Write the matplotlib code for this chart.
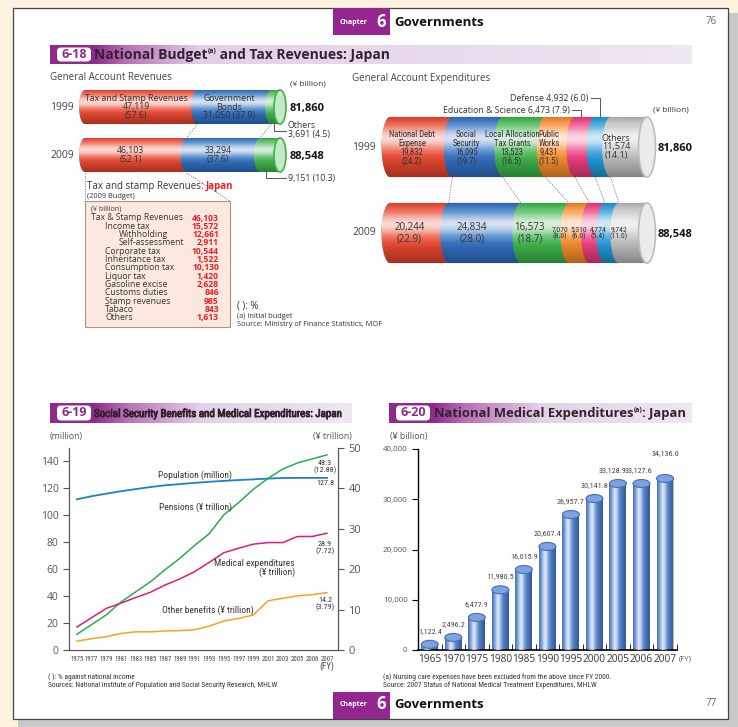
import numpy as np
import matplotlib
matplotlib.use("Agg")
import matplotlib.pyplot as plt
import matplotlib.patheffects as pe
from matplotlib.patches import Rectangle, Ellipse, Polygon, FancyBboxPatch
from matplotlib.colors import to_rgb

plt.rcParams["font.family"] = ["Open Sans", "DejaVu Sans"]
NARROW = ["Roboto Condensed", "DejaVu Sans"]

# ---------------- data ----------------
rev_years = ["1999", "2009"]
rev_names = ["Tax and Stamp Revenues", "Government\nBonds", "Others"]
rev_1999 = [47119, 31050, 3691]
rev_2009 = [46103, 33294, 9151]
rev_colors = ["#e8462f", "#2f6fc0", "#3cb44b"]

tax_items = ["Tax & Stamp Revenues", "Income tax", "Withholding", "Self-assessment",
             "Corporate tax", "Inheritance tax", "Consumption tax", "Liquor tax",
             "Gasoline excise", "Customs duties", "Stamp revenues", "Tabaco", "Others"]
tax_levels = [0, 1, 2, 2, 1, 1, 1, 1, 1, 1, 1, 1, 1]
tax_values = [46103, 15572, 12661, 2911, 10544, 1522, 10130, 1420, 2628, 846, 985, 843, 1613]

exp_names = ["National Debt\nExpense", "Social\nSecurity", "Local Allocation\nTax Grants",
             "Public\nWorks", "Education & Science", "Defense", "Others"]
exp_1999 = [19832, 16095, 13523, 9431, 6473, 4932, 11574]
exp_2009 = [20244, 24834, 16573, 7070, 5310, 4774, 9742]
exp_totals = [81860, 88548]
exp_colors = ["#e8462f", "#2f6fc0", "#3cb44b", "#f68a2b", "#ec3d7c", "#1f98d8", "#bdbdbd"]

ss_years = ["1975", "1977", "1979", "1981", "1983", "1985", "1987", "1989", "1991",
            "1993", "1995", "1997", "1999", "2001", "2003", "2005", "2006", "2007"]
population = [111.9, 114.2, 116.1, 117.9, 119.5, 121.0, 122.3, 123.2, 124.1,
              124.9, 125.6, 126.2, 126.7, 127.3, 127.7, 127.8, 127.8, 127.8]
pensions = [3.9, 6.3, 8.7, 11.9, 14.4, 16.9, 19.9, 22.7, 25.9,
            28.8, 33.5, 36.5, 39.8, 42.5, 44.8, 46.3, 47.3, 48.3]
medical = [5.7, 8.0, 10.3, 11.6, 13.0, 14.3, 16.1, 17.6, 19.4,
           21.7, 24.1, 25.2, 26.2, 26.6, 26.6, 28.1, 28.1, 28.9]
other_benefits = [2.2, 2.8, 3.3, 4.1, 4.5, 4.5, 4.7, 4.8, 5.0,
                  5.9, 7.2, 7.8, 8.7, 12.2, 12.8, 13.4, 13.7, 14.2]
income_share = [12.88, 7.72, 3.79]   # pensions, medical, other (2007)

nme_years = ["1965", "1970", "1975", "1980", "1985", "1990", "1995", "2000", "2005", "2006", "2007"]
nme_values = [1122.4, 2496.2, 6477.9, 11980.5, 16015.9, 20607.4, 26957.7, 30141.8, 33128.9, 33127.6, 34136.0]

# ---------------- page ----------------
W, H = 738, 727
PURPLE = "#8d2b8b"
fig = plt.figure(figsize=(W / 100, H / 100), dpi=100, facecolor="#fdf2df")
page = fig.add_axes([0, 0, 1, 1])
page.axis("off")
renderer = fig.canvas.get_renderer()


def T(x, y, s, **kw):
    kw.setdefault("va", "center")
    kw.setdefault("color", "#333333")
    return fig.text(x / W, 1 - y / H, s, **kw)


def T_parts(x, y, parts):
    for s, kw, dy in parts:
        t = T(x, y + dy, s, ha="left", **kw)
        x += t.get_window_extent(renderer).width


def px_axes(x0, y0, x1, y1):
    ax = fig.add_axes([x0 / W, 1 - y1 / H, (x1 - x0) / W, (y1 - y0) / H])
    ax.set_facecolor("none")
    return ax


def lighten(c, f):
    return tuple(np.array(to_rgb(c)) * (1 - f) + f)


page.add_patch(Rectangle((18, 13), 720, 714, fc="#c9c9c9", ec="none", zorder=0))
page.add_patch(Rectangle((13, 8), 715, 711, fc="white", ec="#444444", lw=0.9, zorder=1))

# chapter tabs
for ty, num in [(8, "76"), (692, "77")]:
    page.add_patch(Rectangle((333, ty), 57, 27, fc="#93278f", ec="none", zorder=2))
    yc = ty + 14 if ty < 100 else ty + 12
    T(340, yc + 1, "Chapter", color="white", fontsize=5, fontweight="bold")
    T(376, yc, "6", color="white", fontsize=12, fontweight="bold")
    T(394, yc, "Governments", color="#111111", fontsize=9.5, fontweight="bold")
    T(706, yc, num, color="#666666", fontsize=7)


def band(x0, x1, y0, y1, tag):
    n = int(x1 - x0)
    d = np.arange(n)
    stops = [0, 44, 75, 150, n]
    cols = np.array([to_rgb(c) for c in [PURPLE, PURPLE, "#b86fb5", "#e2d0e7", "#efe7f2"]])
    img = np.stack([np.interp(d, stops, cols[:, k]) for k in range(3)], axis=1)[None, :, :]
    page.imshow(img, extent=(x0, x1, y1, y0), aspect="auto", zorder=2, interpolation="bilinear")
    page.add_patch(FancyBboxPatch((x0 + 7, y0 + 2.5), 34, y1 - y0 - 5,
                                  boxstyle="round,pad=0,rounding_size=4", fc="white", ec="none", zorder=3))
    T(x0 + 24, (y0 + y1) / 2, tag, color=PURPLE, fontsize=9, fontweight="bold", ha="center")


band(50, 692, 45, 64, "6-18")
band(50, 352, 403, 423, "6-19")
band(389, 692, 403, 423, "6-20")
TITLE = "#33212f"
T_parts(94, 55, [("National Budget", dict(fontsize=10, fontweight="bold", color=TITLE), 0),
                 ("(a)", dict(fontsize=5, fontweight="bold", color=TITLE), -3),
                 (" and Tax Revenues: Japan", dict(fontsize=10, fontweight="bold", color=TITLE), 0)])
T(94, 413.5, "Social Security Benefits and Medical Expenditures: Japan", fontsize=7.9,
  color=TITLE, family=NARROW, ha="left",
  path_effects=[pe.withStroke(linewidth=0.6, foreground=TITLE)])
T_parts(434, 413.5, [("National Medical Expenditures", dict(fontsize=9.4, fontweight="bold", color=TITLE), 0),
                     ("(a)", dict(fontsize=5, fontweight="bold", color=TITLE), -3),
                     (": Japan", dict(fontsize=9.4, fontweight="bold", color=TITLE), 0)])

page.set_xlim(0, W)
page.set_ylim(H, 0)

# ---------------- cylinder helpers ----------------
def shade_profile(n=64):
    t = np.linspace(0, 1, n)
    aw = 0.8 * np.exp(-((t - 0.36) / 0.2) ** 2)
    ab = 0.3 * np.clip((t - 0.6) / 0.4, 0, 1) ** 1.3 + 0.15 * np.clip((0.1 - t) / 0.1, 0, 1)
    rgba = np.zeros((n, 4))
    rgba[:, :3] = (aw / (aw + ab + 1e-9))[:, None]
    rgba[:, 3] = 1 - (1 - aw) * (1 - ab)
    return rgba


SHADE_V = shade_profile()[:, None, :]
SHADE_H = shade_profile()[None, :, :]


def hbody(a, b, y0, y1, r):
    th = np.linspace(np.pi / 2, 3 * np.pi / 2, 40)
    yc, ry = (y0 + y1) / 2, (y1 - y0) / 2
    arc = np.column_stack([a + r * np.cos(th), yc - ry * np.sin(th)])
    return np.vstack([arc, [[b, y1], [b, y0]]])


def cylinder_row(ax, row, values, colors, h, r):
    pct = np.asarray(values, float) / sum(values) * 100
    edges = np.concatenate([[0], np.cumsum(pct)])
    y0, y1 = row - h / 2, row + h / 2
    for k, c in enumerate(colors):
        ax.add_patch(Polygon(hbody(edges[k], edges[k + 1], y0, y1, r), closed=True,
                             fc=c, ec="none", zorder=2))
    clip = Polygon(hbody(0, 100, y0, y1, r), closed=True, transform=ax.transData)
    im = ax.imshow(SHADE_V, extent=(-r, 100, y1, y0), aspect="auto", zorder=3, interpolation="bilinear")
    im.set_clip_path(clip)
    ax.add_patch(Ellipse((100, row), 2 * r, h, fc=lighten(colors[-1], 0.7), ec=colors[-1], lw=1.2, zorder=4))
    return pct, edges


# ---------------- 6-18 revenues ----------------
RX0, RX1 = 85, 280
rsc = (RX1 - RX0) / 100.0
ax_rev = px_axes(RX0 - 14, 83, RX1 + 14, 179)
rev_r = 6 / rsc
rev_h = 0.71
rp99, re99 = cylinder_row(ax_rev, 0, rev_1999, rev_colors, rev_h, rev_r)
rp09, re09 = cylinder_row(ax_rev, 1, rev_2009, rev_colors, rev_h, rev_r)
for k in range(1, len(rev_1999)):
    ax_rev.plot([re99[k], re09[k]], [rev_h / 2, 1 - rev_h / 2], ls=(0, (1.5, 1.5)), color="#777777", lw=0.6)
ax_rev.set_xlim(-14 / rsc, 100 + 14 / rsc)
ax_rev.set_ylim(1.5, -0.5)
ax_rev.axis("off")

T(50, 77, "General Account Revenues", fontsize=7, color="#444444")
T(290, 84, "(¥ billion)", fontsize=6)
for yy, yr, vals in [(107, rev_years[0], rev_1999), (155, rev_years[1], rev_2009)]:
    T(50, yy, yr, fontsize=7.5, color="#444444")
    T(290, yy + 1, f"{sum(vals):,}", fontsize=8, fontweight="bold", color="#111111")

mid99 = (re99[:-1] + re99[1:]) / 2
mid09 = (re09[:-1] + re09[1:]) / 2
T(RX0 + mid99[0] * rsc - 5, 107, f"{rev_names[0]}\n{rev_1999[0]:,}\n({rp99[0]:.1f})",
  fontsize=6.3, ha="center", linespacing=0.95)
T(RX0 + mid99[1] * rsc - 5, 107, f"{rev_names[1]}\n{rev_1999[1]:,} ({rp99[1]:.1f})",
  fontsize=6.3, ha="center", linespacing=0.95)
for k in range(2):
    T(RX0 + mid09[k] * rsc - 5, 155, f"{rev_2009[k]:,}\n({rp09[k]:.1f})",
      fontsize=6.3, ha="center", linespacing=0.95)

# leaders for "Others"
lx99 = RX0 + (re99[2] + 0.3 * (re99[3] - re99[2])) * rsc
lx09 = RX0 + (re09[2] + 0.3 * (re09[3] - re09[2])) * rsc
page.plot([lx99, lx99, 286], [124, 131, 131], color="#555555", lw=0.7, zorder=5)
page.plot([lx09, lx09, 286], [172, 178, 178], color="#555555", lw=0.7, zorder=5)
T(288, 130, f"{rev_names[2]}\n{rev_1999[2]:,} ({rp99[2]:.1f})", fontsize=6.3, linespacing=0.95)
T(288, 178, f"{rev_2009[2]:,} ({rp09[2]:.1f})", fontsize=6.3)

# callout box
page.plot([85, 85], [173, 201], ls=(0, (1.5, 1.5)), color="#777777", lw=0.6, zorder=5)
page.plot([RX0 + re09[1] * rsc, 230], [173, 201], ls=(0, (1.5, 1.5)), color="#777777", lw=0.6, zorder=5)
page.add_patch(Rectangle((85, 201), 145, 126, fc="#fce8df", ec="#b58f83", lw=0.8, zorder=4))
T_parts(87, 186, [("Tax and stamp Revenues: ", dict(fontsize=7, color="#333333"), 0),
                  ("Japan", dict(fontsize=7, color="#e8202a", fontweight="bold"), 0)])
T(87, 196, "(2009 Budget)", fontsize=5.3)
T(91, 209, "(¥ billion)", fontsize=5)
for i, (name, lev, val) in enumerate(zip(tax_items, tax_levels, tax_values)):
    yy = 218 + i * 8.3
    T(91 + lev * 14, yy, name, fontsize=6.2)
    T(219, yy, f"{val:,}", fontsize=6.2, fontweight="bold", color="#e8202a", ha="right")

T(237, 306, "( ): %", fontsize=7)
T(237, 316, "(a) Initial budget", fontsize=5.3)
T(237, 324, "Source: Ministry of Finance Statistics, MOF", fontsize=5.3)

# ---------------- 6-18 expenditures ----------------
EX0, EX1 = 390, 647
esc = (EX1 - EX0) / 100.0
ax_exp = px_axes(EX0 - 14, 104, EX1 + 14, 276)
exp_r = 8.5 / esc
exp_h = 0.70
ep99, ee99 = cylinder_row(ax_exp, 0, exp_1999, exp_colors, exp_h, exp_r)
ep09, ee09 = cylinder_row(ax_exp, 1, exp_2009, exp_colors, exp_h, exp_r)
for k in range(1, len(exp_1999)):
    ax_exp.plot([ee99[k], ee09[k]], [exp_h / 2, 1 - exp_h / 2], ls=(0, (1.5, 1.5)), color="#777777", lw=0.6)
ax_exp.set_xlim(-14 / esc, 100 + 14 / esc)
ax_exp.set_ylim(1.5, -0.5)
ax_exp.axis("off")

T(352, 78, "General Account Expenditures", fontsize=7, color="#444444")
T(653, 110, "(¥ billion)", fontsize=6)
for yy, yr, tot in [(147, "1999", exp_totals[0]), (233, "2009", exp_totals[1])]:
    T(352, yy, yr, fontsize=7.5, color="#444444")
    T(658, yy + 1, f"{tot:,}", fontsize=8, fontweight="bold", color="#111111")

emid99 = (ee99[:-1] + ee99[1:]) / 2
emid09 = (ee09[:-1] + ee09[1:]) / 2
nudge99 = [-9, -11, -12, -11, 0, 0, -13]      # label offsets in px (cylinder perspective)
nudge09 = [-10, -13, -15, -19, -18, -14, -14]
for k in [0, 1, 2, 3]:
    T(EX0 + emid99[k] * esc + nudge99[k], 148, f"{exp_names[k]}\n{exp_1999[k]:,}\n({ep99[k]:.1f})",
      fontsize=6.2, ha="center", family=NARROW, linespacing=1.0)
T(EX0 + emid99[6] * esc + nudge99[6], 147, f"{exp_names[6]}\n{exp_1999[6]:,}\n({ep99[6]:.1f})",
  fontsize=6.5, ha="center", linespacing=0.95)
for k in range(len(exp_2009)):
    fs = 7 if k < 3 else 5.6
    T(EX0 + emid09[k] * esc + nudge09[k], 233.5, f"{exp_2009[k]:,}\n({ep09[k]:.1f})",
      fontsize=fs, ha="center", family=NARROW if k >= 3 else None, linespacing=1.05)

for k, ty in [(4, 110), (5, 98)]:
    lx = EX0 + (ee99[k] + 0.3 * (ee99[k + 1] - ee99[k])) * esc
    page.plot([lx - 9, lx, lx], [ty, ty, 117], color="#555555", lw=0.7, zorder=5)
    T(lx - 11, ty, f"{exp_names[k]} {exp_1999[k]:,} ({ep99[k]:.1f})", fontsize=6.3, ha="right")

# ---------------- 6-19 line chart ----------------
ax19 = px_axes(69, 448, 338, 650)
xs = np.arange(len(ss_years))
ax19.plot(xs, population, color="#1b80c9", lw=1.3)
ax19.set_xlim(-0.54, 17.75)
ax19.set_ylim(0, 150)
ax19.set_yticks(range(0, 141, 20))
ax19.set_xticks(xs, ss_years)
ax19r = ax19.twinx()
ax19r.plot(xs, pensions, color="#27b04b", lw=1.1)
ax19r.plot(xs, medical, color="#e5187c", lw=1.1)
ax19r.plot(xs, other_benefits, color="#f7a31c", lw=1.1)
ax19r.set_ylim(0, 50)
ax19r.set_yticks(range(0, 51, 10))
for a in (ax19, ax19r):
    a.spines["top"].set_visible(False)
    for s in a.spines.values():
        s.set_color("#555555")
        s.set_linewidth(0.8)
ax19.tick_params(axis="y", labelsize=7.5, labelcolor="#555555", color="#555555", length=4, width=0.8)
ax19r.tick_params(axis="y", labelsize=8, labelcolor="#555555", color="#555555", length=4, width=0.8)
ax19.tick_params(axis="x", length=0, pad=4, labelcolor="#444444")
for lab in ax19.get_xticklabels():
    lab.set_fontsize(4.9)
    lab.set_family(NARROW)

T(50, 437, "(million)", fontsize=6.3, color="#555555")
T(352, 437, "(¥ trillion)", fontsize=6.3, color="#555555", ha="right")
T(195, 475, "Population (million)", fontsize=6.8, family=NARROW, ha="center")
T(196, 507, "Pensions (¥ trillion)", fontsize=6.8, family=NARROW, ha="center")
T(295, 568, "Medical expenditures\n(¥ trillion)", fontsize=6.8, family=NARROW, ha="right",
  multialignment="right", linespacing=1.05)
T(208, 610, "Other benefits (¥ trillion)", fontsize=6.8, family=NARROW, ha="center")
T(325, 467, f"{pensions[-1]}\n({income_share[0]:.2f})", fontsize=5.8, family=NARROW, ha="center", linespacing=0.95)
T(325, 483, f"{population[-1]}", fontsize=5.8, family=NARROW, ha="center")
T(325, 548, f"{medical[-1]}\n({income_share[1]:.2f})", fontsize=5.8, family=NARROW, ha="center", linespacing=0.95)
T(325, 604, f"{other_benefits[-1]}\n({income_share[2]:.2f})", fontsize=5.8, family=NARROW, ha="center", linespacing=0.95)
T(327, 666, "(FY)", fontsize=6.5, family=NARROW, ha="center", color="#444444")
T(48, 677, "( ): % against national income", fontsize=5.4, family=NARROW)
T(48, 685, "Sources: National Institute of Population and Social Security Research, MHLW", fontsize=5.4, family=NARROW)

# ---------------- 6-20 cylinders ----------------
ax20 = px_axes(418, 449, 677, 650)
pos = np.arange(len(nme_years))
cap = 800
label_shift = {8: (-0.25, 0), 9: (-0.12, 0), 10: (0, 2400)}
bars = ax20.bar(pos, nme_values, width=0.72, color="#4d7fcb", zorder=2)
for i, (b, v) in enumerate(zip(bars, nme_values)):
    im = ax20.imshow(SHADE_H, extent=(b.get_x(), b.get_x() + b.get_width(), 0, v),
                     aspect="auto", zorder=3, interpolation="bilinear")
    im.set_clip_path(b)
    cx = b.get_x() + b.get_width() / 2
    ax20.add_patch(Ellipse((cx, v), b.get_width(), 2 * cap, fc="#7fa2dd", ec="#3f70c0", lw=0.8, zorder=4))
    dx, dy = label_shift.get(i, (0, 0))
    ax20.text(cx + dx, v + 2700 + dy, f"{v:,.1f}", ha="center", va="center", fontsize=5.8,
              family=NARROW, color="#444444")
ax20.set_xlim(-0.466, 10.51)
ax20.set_ylim(0, 40000)
ax20.set_yticks([0, 10000, 20000, 30000, 40000], ["0", "10,000", "20,000", "30,000", "40,000"])
ax20.set_xticks(pos, nme_years)
ax20.set_xticks(np.arange(len(nme_years) + 1) - 0.5, minor=True)
ax20.spines["top"].set_visible(False)
ax20.spines["right"].set_visible(False)
ax20.spines["left"].set_linewidth(1.0)
ax20.spines["bottom"].set_linewidth(1.2)
ax20.tick_params(axis="y", labelsize=5.8, labelcolor="#555555", length=4)
ax20.tick_params(axis="x", which="major", length=0, labelsize=7.3, labelcolor="#333333", pad=3)
ax20.tick_params(axis="x", which="minor", direction="in", length=4)

T(390, 437, "(¥ billion)", fontsize=6.3, color="#555555")
T(685, 659, "(FY)", fontsize=5.5, color="#555555", ha="center")
T(383, 677, "(a) Nursing care expenses have been excluded from the above since FY 2000.", fontsize=5.4, family=NARROW)
T(383, 685, "Source: 2007 Status of National Medical Treatment Expenditures, MHLW", fontsize=5.4, family=NARROW)

fig.savefig("out.png", dpi=100, facecolor=fig.get_facecolor())
